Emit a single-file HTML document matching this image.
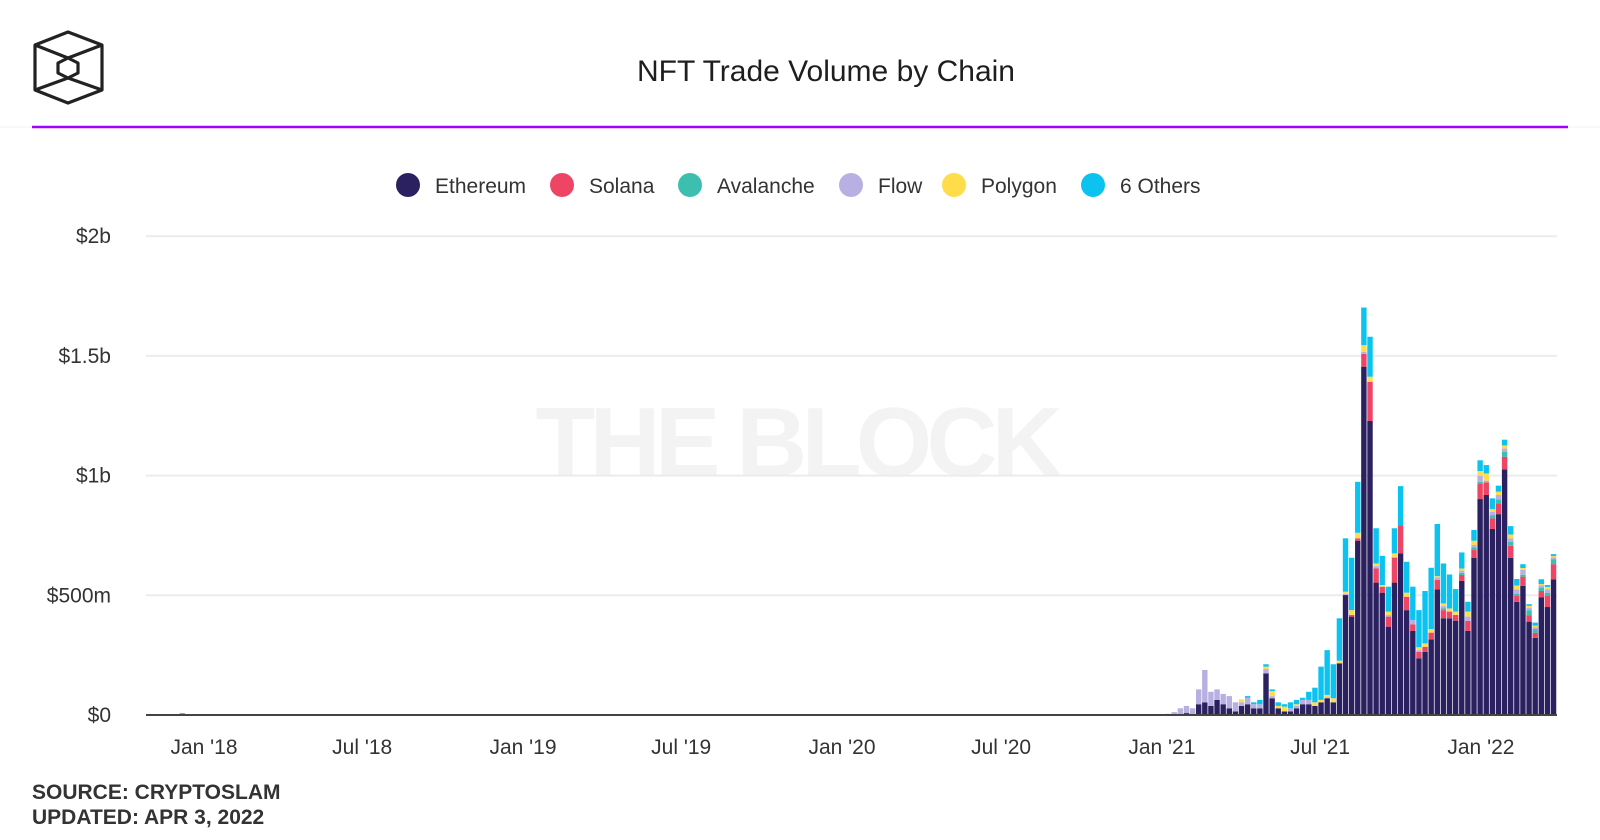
<!DOCTYPE html>
<html><head><meta charset="utf-8"><style>
body{margin:0;background:#fff;}
svg{display:block;font-family:"Liberation Sans",sans-serif;}
</style></head><body>
<svg id="chart" width="1600" height="840" viewBox="0 0 1600 840">
<rect width="1600" height="840" fill="#fff"/>
<g fill="none" stroke="#222" stroke-width="3.2" stroke-linejoin="round">
<polygon points="68,32 102,45 102,90 68,103 35,90 35,45"/>
<polygon points="68,58 78,63 78,73 68,78 58,73 58,63"/>
<line x1="35" y1="45" x2="68" y2="58"/><line x1="102" y1="45" x2="68" y2="58"/>
<line x1="35" y1="90" x2="68" y2="78"/><line x1="102" y1="90" x2="68" y2="78"/>
</g>
<text x="826" y="81" text-anchor="middle" font-size="30" fill="#1e1e1e">NFT Trade Volume by Chain</text>
<line x1="0" y1="127" x2="1600" y2="127" stroke="#f0f0f0" stroke-width="1"/>
<line x1="32" y1="127" x2="1568" y2="127" stroke="#a100ff" stroke-width="2.5"/>
<text x="799" y="476" text-anchor="middle" font-size="98" font-weight="bold" fill="#f3f3f3" textLength="527">THE BLOCK</text>
<g id="grid"></g>
<g id="bars"></g>
<g id="axes"></g>
<g id="legend"></g>
<text x="32" y="799" font-size="21" font-weight="bold" fill="#333">SOURCE: CRYPTOSLAM</text>
<text x="32" y="824" font-size="21" font-weight="bold" fill="#333">UPDATED: APR 3, 2022</text>
</svg>
<script>
const seriesNames = ["Ethereum","Solana","Avalanche","Flow","Polygon","6 Others"];
const seriesColors = ["#2b2160","#ef4565","#3dbfb0","#b8b0e2","#fedc4a","#0cc3f0"];
const firstWeek = "2021-01-05";
const ethereum = [0,0,0,8,5,45,53,38,63,45,28,15,38,45,28,28,174,70,28,15,15,28,45,45,38,53,70,53,216,501,411,728,1455,1228,553,511,369,553,675,438,351,237,264,316,525,404,404,394,560,351,657,902,919,777,839,1026,657,473,539,390,322,492,451,567];
const solana   = [0,0,0,0,0,0,0,0,0,0,0,0,0,0,0,0,0,0,0,0,0,0,0,0,0,0,0,0,0,0,7,10,53,164,59,25,42,104,118,56,28,27,21,28,39,34,28,24,25,42,32,63,53,44,45,53,50,24,39,27,22,26,46,63];
const avalanche= [0,0,0,0,0,0,0,0,0,0,0,0,0,0,0,0,0,0,0,0,0,0,0,0,0,0,0,0,0,0,0,0,0,0,0,0,0,0,0,0,0,0,0,0,0,7,0,0,9,0,11,9,0,14,17,21,17,10,8,21,15,14,14,21];
const flow     = [5,12,28,30,23,62,135,59,44,43,51,38,15,27,17,17,18,9,0,0,13,10,18,18,0,0,4,0,0,5,0,0,9,0,10,0,7,4,0,0,18,7,0,0,11,10,0,0,9,18,10,25,7,14,18,13,14,17,20,10,8,9,14,8];
const polygon  = [0,0,0,0,0,0,0,0,0,0,0,0,12,0,0,0,10,21,10,20,0,7,0,0,15,10,10,17,11,9,20,23,28,21,11,7,14,14,0,17,0,12,14,15,5,11,13,14,9,21,18,20,30,11,14,13,16,17,8,8,6,6,10,5];
const others   = [0,0,0,0,0,0,0,0,0,0,0,0,0,7,8,18,10,7,15,10,25,18,9,34,61,139,187,142,177,223,219,213,157,167,147,122,104,105,163,129,139,155,219,256,218,167,142,94,67,41,45,45,35,45,25,24,35,27,16,7,13,20,8,8];
const earlyWeeks = ["2017-12-04"];
const earlyEthereum = [6];
const yTicks = [0,500,1000,1500,2000];
const yTickLabels = ["$0","$500m","$1b","$1.5b","$2b"];
const xTickDates = ["2018-01-01","2018-07-01","2019-01-01","2019-07-01","2020-01-01","2020-07-01","2021-01-01","2021-07-01","2022-01-01"];
const xTickLabels = ["Jan '18","Jul '18","Jan '19","Jul '19","Jan '20","Jul '20","Jan '21","Jul '21","Jan '22"];

const NS="http://www.w3.org/2000/svg";
const X0=204, PXDAY=0.874, BASE=715, PXM=0.2394, LEFT=146, RIGHT=1557;
const origin=Date.UTC(2018,0,1);
function dayOf(s){const p=s.split("-");return (Date.UTC(+p[0],+p[1]-1,+p[2])-origin)/86400000;}
function xScale(d){return X0+d*PXDAY;}
function yScale(v){return BASE-v*PXM;}
function mk(tag,attrs,parent){const e=document.createElementNS(NS,tag);for(const k in attrs)e.setAttribute(k,attrs[k]);parent.appendChild(e);return e;}

const grid=document.getElementById("grid"), axes=document.getElementById("axes"), bars=document.getElementById("bars"), legend=document.getElementById("legend");
yTicks.forEach((t,i)=>{
  if(t>0){const g=mk("line",{x1:LEFT,x2:RIGHT,y1:yScale(t),y2:yScale(t),stroke:"#ececec","stroke-width":2},grid);
  
  }
  const tx=mk("text",{x:111,y:yScale(t)+7,"text-anchor":"end","font-size":21,fill:"#333"},axes);
  tx.textContent=yTickLabels[i];
  
  
});
const seriesArr=[ethereum,solana,avalanche,flow,polygon,others];
const w=7*PXDAY;
const d0=dayOf(firstWeek);
ethereum.forEach((_,i)=>{
  const x=xScale(d0+i*7);
  let acc=0;
  seriesArr.forEach((arr,s)=>{
    const v=arr[i]; if(!v) return;
    const r=mk("rect",{x:x,y:yScale(acc+v),width:w-0.7,height:v*PXM,fill:seriesColors[s]},bars);
    
    
    acc+=v;
  });
});
earlyWeeks.forEach((d,i)=>{
  const v=earlyEthereum[i];
  const r=mk("rect",{x:xScale(dayOf(d)),y:yScale(v),width:w-0.7,height:v*PXM,fill:seriesColors[0]},bars);
  
  
});
const ax=mk("line",{x1:LEFT,x2:RIGHT,y1:BASE,y2:BASE,stroke:"#444","stroke-width":2},axes);


xTickDates.forEach((d,i)=>{
  const t=mk("text",{x:xScale(dayOf(d)),y:754,"text-anchor":"middle","font-size":21,fill:"#333"},axes);
  t.textContent=xTickLabels[i];
  
  
});
const legCircle=[408,562,690,851,954,1093];
seriesNames.forEach((n,i)=>{
  const g=mk("g",{},legend);
  
  
  mk("circle",{cx:legCircle[i],cy:185,r:12,fill:seriesColors[i]},g);
  const t=mk("text",{x:legCircle[i]+27,y:193,"font-size":21,fill:"#333"},g);
  t.textContent=n;
});
</script>
</body></html>
